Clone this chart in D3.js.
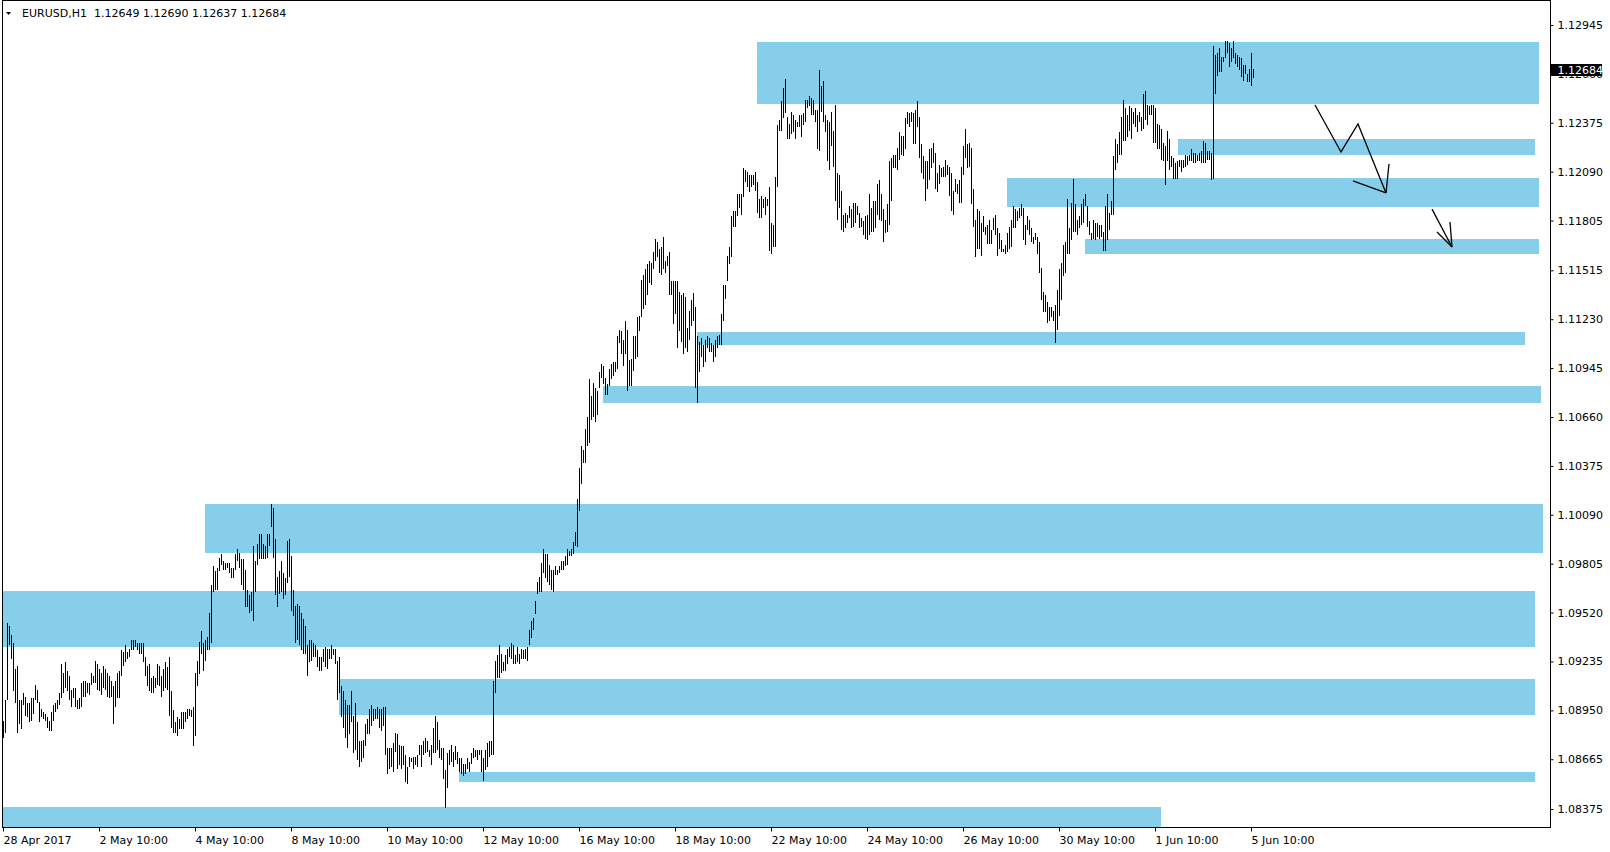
<!DOCTYPE html>
<html><head><meta charset="utf-8">
<script src="https://cdn.jsdelivr.net/npm/d3@7"></script>
<style>
body{margin:0;background:#fff;}
svg{display:block;}
text{font-family:"DejaVu Sans",sans-serif;font-size:11px;fill:#000;}
</style>
</head><body><svg id="c" width="1610" height="852"></svg>
<script>
const symbolText = "EURUSD,H1";
const lastOHLC = [1.12649, 1.12690, 1.12637, 1.12684];
const lastClose = 1.12684;

const highs = [
1.0889,1.0901,1.0946,1.0944,1.0939,1.0934,1.0919,1.0921,1.0901,1.0901,
1.0905,1.0903,1.0899,1.0899,1.0902,1.0902,1.0910,1.0907,1.0900,1.0896,
1.0894,1.0893,1.0891,1.0889,1.0894,1.0898,1.0899,1.0901,1.0905,1.0922,
1.0917,1.0923,1.0918,1.0915,1.0907,1.0908,1.0908,1.0901,1.0902,1.0911,
1.0912,1.0912,1.0911,1.0911,1.0917,1.0915,1.0924,1.0922,1.0919,1.0917,
1.0921,1.0919,1.0917,1.0915,1.0912,1.0909,1.0912,1.0917,1.0918,1.0930,
1.0929,1.0933,1.0929,1.0931,1.0936,1.0936,1.0936,1.0934,1.0934,1.0934,
1.0934,1.0926,1.0921,1.0922,1.0914,1.0915,1.0914,1.0922,1.0921,1.0915,
1.0919,1.0923,1.0920,1.0926,1.0906,1.0895,1.0888,1.0891,1.0890,1.0894,
1.0894,1.0894,1.0896,1.0896,1.0895,1.0897,1.0917,1.0924,1.0935,1.0941,
1.0934,1.0936,1.0938,1.0952,1.0968,1.0979,1.0976,1.0978,1.0984,1.0986,
1.0982,1.0981,1.0981,1.0981,1.0978,1.0978,1.0986,1.0989,1.0987,1.0983,
1.0983,1.0977,1.0965,1.0962,1.0964,1.0991,1.0982,1.0992,1.0998,1.0998,
1.0992,1.0991,1.0998,1.0998,1.1015,1.1013,1.0995,1.0973,1.0976,1.0982,
1.0975,1.0972,1.0994,1.0995,1.0985,1.0965,1.0956,1.0957,1.0956,1.0952,
1.0948,1.0944,1.0933,1.0936,1.0936,1.0934,1.0933,1.0930,1.0926,1.0926,
1.0931,1.0932,1.0931,1.0931,1.0933,1.0931,1.0931,1.0924,1.0926,1.0909,
1.0906,1.0901,1.0898,1.0898,1.0906,1.0892,1.0899,1.0888,1.0877,1.0877,
1.0878,1.0887,1.0890,1.0896,1.0898,1.0896,1.0896,1.0897,1.0896,1.0896,
1.0897,1.0897,1.0873,1.0873,1.0873,1.0876,1.0882,1.0881,1.0875,1.0874,
1.0874,1.0869,1.0862,1.0868,1.0867,1.0868,1.0868,1.0869,1.0875,1.0875,
1.0877,1.0879,1.0877,1.0872,1.0875,1.0885,1.0892,1.0888,1.0878,1.0873,
1.0873,1.0860,1.0870,1.0872,1.0875,1.0871,1.0874,1.0871,1.0867,1.0867,
1.0864,1.0864,1.0867,1.0865,1.0870,1.0873,1.0872,1.0872,1.0872,1.0872,
1.0867,1.0872,1.0876,1.0877,1.0877,1.0912,1.0924,1.0927,1.0933,1.0928,
1.0923,1.0927,1.0931,1.0932,1.0934,1.0933,1.0927,1.0932,1.0928,1.0931,
1.0930,1.0931,1.0932,1.0942,1.0947,1.0949,1.0959,1.0970,1.0973,1.0981,
1.0989,1.0986,1.0986,1.0980,1.0977,1.0977,1.0979,1.0977,1.0979,1.0982,
1.0982,1.0985,1.0989,1.0988,1.0989,1.0993,1.0999,1.1018,1.1036,1.1049,
1.1047,1.1059,1.1066,1.1088,1.1078,1.1086,1.1083,1.1081,1.1092,1.1097,
1.1096,1.1089,1.1085,1.1094,1.1097,1.1098,1.1098,1.1113,1.1117,1.1116,
1.1111,1.1122,1.1117,1.1099,1.1100,1.1113,1.1113,1.1124,1.1125,1.1146,
1.1149,1.1152,1.1155,1.1157,1.1156,1.1162,1.1170,1.1168,1.1164,1.1165,
1.1171,1.1157,1.1160,1.1162,1.1145,1.1145,1.1145,1.1145,1.1139,1.1137,
1.1138,1.1136,1.1118,1.1128,1.1134,1.1138,1.1130,1.1113,1.1110,1.1112,
1.1108,1.1111,1.1113,1.1112,1.1109,1.1108,1.1111,1.1113,1.1114,1.1126,
1.1143,1.1143,1.1160,1.1165,1.1183,1.1186,1.1186,1.1196,1.1196,1.1196,
1.1211,1.1210,1.1209,1.1207,1.1207,1.1207,1.1209,1.1203,1.1193,1.1195,
1.1193,1.1194,1.1193,1.1200,1.1179,1.1178,1.1206,1.1236,1.1239,1.1250,
1.1258,1.1263,1.1241,1.1237,1.1244,1.1242,1.1239,1.1238,1.1242,1.1242,
1.1243,1.1251,1.1251,1.1253,1.1252,1.1251,1.1245,1.1245,1.1268,1.1259,
1.1262,1.1242,1.1239,1.1238,1.1244,1.1233,1.1248,1.1208,1.1207,1.1198,
1.1184,1.1185,1.1184,1.1189,1.1187,1.1191,1.1191,1.1189,1.1185,1.1182,
1.1180,1.1183,1.1184,1.1196,1.1188,1.1192,1.1192,1.1202,1.1204,1.1196,
1.1187,1.1181,1.1190,1.1215,1.1217,1.1219,1.1219,1.1223,1.1232,1.1230,
1.1230,1.1240,1.1244,1.1243,1.1244,1.1243,1.1245,1.1250,1.1241,1.1225,
1.1218,1.1215,1.1215,1.1222,1.1223,1.1226,1.1220,1.1208,1.1213,1.1211,
1.1212,1.1216,1.1213,1.1212,1.1208,1.1198,1.1205,1.1202,1.1204,1.1212,
1.1224,1.1234,1.1225,1.1226,1.1223,1.1199,1.1181,1.1187,1.1186,1.1179,
1.1183,1.1177,1.1178,1.1181,1.1175,1.1182,1.1184,1.1176,1.1173,1.1169,
1.1164,1.1166,1.1173,1.1177,1.1181,1.1189,1.1187,1.1186,1.1188,1.1190,
1.1188,1.1178,1.1183,1.1181,1.1176,1.1171,1.1173,1.1171,1.1168,1.1153,
1.1139,1.1137,1.1133,1.1130,1.1130,1.1128,1.1131,1.1140,1.1152,1.1156,
1.1166,1.1168,1.1193,1.1176,1.1191,1.1205,1.1190,1.1181,1.1183,1.1190,
1.1193,1.1196,1.1189,1.1180,1.1173,1.1181,1.1179,1.1179,1.1178,1.1178,
1.1174,1.1189,1.1196,1.1185,1.1192,1.1218,1.1228,1.1225,1.1232,1.1241,
1.1251,1.1246,1.1242,1.1247,1.1246,1.1244,1.1246,1.1242,1.1244,1.1241,
1.1254,1.1256,1.1248,1.1247,1.1248,1.1248,1.1246,1.1237,1.1236,1.1234,
1.1226,1.1224,1.1233,1.1228,1.1218,1.1217,1.1214,1.1215,1.1216,1.1216,
1.1216,1.1219,1.1218,1.1219,1.1222,1.1220,1.1220,1.1219,1.1220,1.1221,
1.1227,1.1226,1.1221,1.1221,1.1220,1.1282,1.1277,1.1278,1.1281,1.1276,
1.1276,1.1285,1.1285,1.1284,1.1281,1.1285,1.1278,1.1277,1.1276,1.1275,
1.1271,1.1271,1.1266,1.1269,1.1278,1.12690
];

const lows = [
1.0879,1.0882,1.0901,1.0933,1.0925,1.0906,1.0899,1.0882,1.0887,1.0884,
1.0898,1.0892,1.0891,1.0888,1.0889,1.0893,1.0901,1.0899,1.0888,1.0891,
1.0890,1.0889,1.0885,1.0883,1.0883,1.0889,1.0894,1.0896,1.0898,1.0902,
1.0905,1.0908,1.0906,1.0901,1.0897,1.0902,1.0897,1.0896,1.0896,1.0897,
1.0903,1.0903,1.0905,1.0904,1.0910,1.0911,1.0911,1.0907,1.0906,1.0904,
1.0908,1.0907,1.0903,1.0902,1.0903,1.0887,1.0897,1.0902,1.0902,1.0915,
1.0921,1.0923,1.0925,1.0926,1.0930,1.0930,1.0932,1.0930,1.0928,1.0928,
1.0923,1.0915,1.0909,1.0906,1.0905,1.0905,1.0908,1.0910,1.0909,1.0903,
1.0906,1.0908,1.0907,1.0892,1.0885,1.0882,1.0882,1.0880,1.0884,1.0884,
1.0884,1.0888,1.0890,1.0892,1.0891,1.0874,1.0880,1.0909,1.0916,1.0928,
1.0918,1.0924,1.0930,1.0930,1.0934,1.0964,1.0965,1.0965,1.0976,1.0980,
1.0977,1.0977,1.0978,1.0975,1.0972,1.0972,1.0977,1.0982,1.0978,1.0968,
1.0965,1.0955,1.0955,1.0952,1.0953,1.0947,1.0964,1.0980,1.0983,1.0983,
1.0983,1.0983,1.0984,1.0991,1.1002,1.0984,1.0962,1.0955,1.0963,1.0964,
1.0960,1.0962,1.0969,1.0973,1.0953,1.0950,1.0934,1.0936,1.0933,1.0930,
1.0928,1.0928,1.0915,1.0923,1.0924,1.0926,1.0926,1.0920,1.0918,1.0918,
1.0923,1.0920,1.0919,1.0925,1.0925,1.0927,1.0922,1.0901,1.0905,1.0891,
1.0885,1.0879,1.0873,1.0881,1.0888,1.0870,1.0872,1.0866,1.0862,1.0865,
1.0867,1.0874,1.0881,1.0881,1.0886,1.0889,1.0890,1.0890,1.0885,1.0883,
1.0886,1.0869,1.0858,1.0861,1.0862,1.0859,1.0871,1.0861,1.0863,1.0861,
1.0863,1.0853,1.0852,1.0862,1.0865,1.0861,1.0863,1.0862,1.0869,1.0862,
1.0869,1.0870,1.0871,1.0868,1.0863,1.0870,1.0870,1.0872,1.0867,1.0866,
1.0855,1.0838,1.0850,1.0863,1.0865,1.0862,1.0866,1.0864,1.0859,1.0858,
1.0857,1.0858,1.0861,1.0859,1.0864,1.0867,1.0868,1.0866,1.0869,1.0859,
1.0854,1.0860,1.0862,1.0868,1.0869,1.0869,1.0905,1.0914,1.0914,1.0917,
1.0918,1.0918,1.0922,1.0926,1.0925,1.0922,1.0922,1.0923,1.0922,1.0925,
1.0925,1.0925,1.0924,1.0933,1.0937,1.0942,1.0951,1.0963,1.0964,1.0964,
1.0975,1.0972,1.0970,1.0968,1.0965,1.0964,1.0974,1.0974,1.0975,1.0977,
1.0977,1.0979,1.0980,1.0985,1.0985,1.0986,1.0991,1.0990,1.1011,1.1027,
1.1039,1.1039,1.1049,1.1051,1.1064,1.1066,1.1063,1.1067,1.1083,1.1089,
1.1085,1.1079,1.1079,1.1084,1.1088,1.1090,1.1092,1.1094,1.1109,1.1103,
1.1096,1.1103,1.1081,1.1084,1.1084,1.1093,1.1100,1.1101,1.1116,1.1124,
1.1129,1.1131,1.1137,1.1144,1.1143,1.1152,1.1157,1.1159,1.1150,1.1149,
1.1152,1.1150,1.1154,1.1137,1.1137,1.1120,1.1126,1.1106,1.1116,1.1110,
1.1103,1.1106,1.1104,1.1111,1.1119,1.1122,1.1083,1.1074,1.1092,1.1101,
1.1095,1.1098,1.1106,1.1104,1.1104,1.1098,1.1101,1.1106,1.1108,1.1108,
1.1122,1.1135,1.1145,1.1155,1.1159,1.1177,1.1177,1.1183,1.1188,1.1184,
1.1194,1.1203,1.1200,1.1197,1.1200,1.1201,1.1198,1.1185,1.1182,1.1182,
1.1188,1.1184,1.1189,1.1163,1.1161,1.1165,1.1165,1.1200,1.1233,1.1233,
1.1240,1.1243,1.1228,1.1228,1.1231,1.1232,1.1228,1.1235,1.1235,1.1229,
1.1236,1.1238,1.1246,1.1247,1.1242,1.1242,1.1238,1.1222,1.1221,1.1244,
1.1238,1.1232,1.1215,1.1210,1.1224,1.1212,1.1192,1.1181,1.1188,1.1175,
1.1174,1.1176,1.1179,1.1182,1.1176,1.1177,1.1179,1.1184,1.1176,1.1177,
1.1172,1.1170,1.1169,1.1172,1.1174,1.1174,1.1176,1.1184,1.1181,1.1180,
1.1168,1.1173,1.1174,1.1178,1.1192,1.1211,1.1211,1.1210,1.1216,1.1219,
1.1218,1.1222,1.1237,1.1235,1.1238,1.1225,1.1225,1.1235,1.1217,1.1208,
1.1205,1.1192,1.1199,1.1204,1.1211,1.1214,1.1199,1.1197,1.1202,1.1206,
1.1206,1.1206,1.1207,1.1195,1.1186,1.1184,1.1197,1.1196,1.1191,1.1191,
1.1207,1.1217,1.1211,1.1212,1.1190,1.1177,1.1159,1.1164,1.1164,1.1160,
1.1174,1.1172,1.1167,1.1167,1.1167,1.1175,1.1172,1.1160,1.1164,1.1162,
1.1162,1.1161,1.1162,1.1164,1.1165,1.1176,1.1176,1.1180,1.1182,1.1183,
1.1169,1.1166,1.1175,1.1172,1.1168,1.1167,1.1169,1.1161,1.1150,1.1134,
1.1127,1.1127,1.1121,1.1122,1.1124,1.1122,1.1109,1.1117,1.1125,1.1134,
1.1148,1.1150,1.1161,1.1161,1.1169,1.1174,1.1174,1.1172,1.1176,1.1178,
1.1179,1.1189,1.1177,1.1172,1.1169,1.1170,1.1169,1.1171,1.1170,1.1171,
1.1163,1.1163,1.1169,1.1175,1.1184,1.1184,1.1210,1.1214,1.1219,1.1219,
1.1227,1.1227,1.1229,1.1233,1.1228,1.1237,1.1235,1.1232,1.1238,1.1233,
1.1234,1.1239,1.1236,1.1242,1.1242,1.1226,1.1226,1.1222,1.1222,1.1216,
1.1215,1.1201,1.1215,1.1210,1.1212,1.1205,1.1205,1.1205,1.1212,1.1209,
1.1211,1.1212,1.1213,1.1215,1.1215,1.1214,1.1214,1.1215,1.1215,1.1214,
1.1214,1.1214,1.1216,1.1216,1.1204,1.1205,1.1254,1.1265,1.1267,1.1267,
1.1273,1.1275,1.1278,1.1270,1.1273,1.1275,1.1272,1.1270,1.1268,1.1264,
1.1262,1.1266,1.1261,1.1261,1.1259,1.12637
];

const timeTickBars = [0,48,96,144,192,240,288,336,384,432,480,528,576,624];
const timeTickLabels = ["28 Apr 2017","2 May 10:00","4 May 10:00","8 May 10:00","10 May 10:00","12 May 10:00","16 May 10:00","18 May 10:00","22 May 10:00","24 May 10:00","26 May 10:00","30 May 10:00","1 Jun 10:00","5 Jun 10:00"];
const priceTicks = [1.12945,1.12660,1.12375,1.12090,1.11805,1.11515,1.11230,1.10945,1.10660,1.10375,1.10090,1.09805,1.09520,1.09235,1.08950,1.08665,1.08375];

// support / resistance zones (bar index from/to, price top/bottom)
const zoneFrom  = [377, 587.5, 502, 541, 347, 300, 101, -0.5, 168, 228, -0.5];
const zoneTo    = [768, 766, 768, 768, 761, 769, 770, 766, 766, 766, 579];
const zoneTop   = [1.12846,1.12281,1.12053,1.11698,1.11157,1.10841,1.10153,1.09646,1.09133,1.08593,1.08387];
const zoneBottom= [1.12485,1.12187,1.11886,1.11610,1.11081,1.10743,1.09869,1.09319,1.08923,1.08532,1.08240];

// hand-drawn arrows (bar index, price)
const zigzag = [[656,1.12479],[669,1.12205],[677.5,1.12368],[691.5,1.11966]];
const zigzagHead = [[675,1.12036],[693,1.12135]];
const arrow2 = [[714.5,1.11872],[724.5,1.11651]];
const arrow2Head = [[717,1.11738],[723.5,1.11797]];

const svg = d3.select("#c");
const W = 1610, H = 852;
const plot = {left:2.5, top:0.5, right:1550.5, bottom:827.5};

svg.append("rect").attr("width",W).attr("height",H).attr("fill","#fff");

const x = d3.scaleLinear().domain([0, highs.length-1]).range([3, 3 + 2*(highs.length-1)]);
const y = d3.scaleLinear().domain([1.08375, 1.12945]).range([809, 25]);

svg.append("defs").append("clipPath").attr("id","plotclip")
  .append("rect").attr("x",plot.left).attr("y",plot.top)
  .attr("width",plot.right-plot.left).attr("height",plot.bottom-plot.top);

const g = svg.append("g").attr("clip-path","url(#plotclip)");

// zones
g.append("g").selectAll("rect").data(zoneFrom.map((f,i)=>i)).join("rect")
  .attr("x", i=>x(zoneFrom[i]))
  .attr("width", i=>x(zoneTo[i])-x(zoneFrom[i]))
  .attr("y", i=>y(zoneTop[i]))
  .attr("height", i=>y(zoneBottom[i])-y(zoneTop[i]))
  .attr("fill","#87CEEB")
  .attr("shape-rendering","crispEdges");

// bars
g.append("g").selectAll("line").data(highs.map((h,i)=>i)).join("line")
  .attr("x1", i=>Math.round(x(i))+0.5).attr("x2", i=>Math.round(x(i))+0.5)
  .attr("y1", i=>Math.round(y(highs[i])))
  .attr("y2", i=>Math.max(Math.round(y(lows[i])), Math.round(y(highs[i]))+1))
  .attr("stroke","#000").attr("stroke-width",1)
  .attr("shape-rendering","crispEdges");

// arrows
const line = d3.line().x(d=>x(d[0])).y(d=>y(d[1]));
g.append("path").attr("d", line(zigzag)).attr("fill","none").attr("stroke","#000").attr("stroke-width",1.3);
const tip1 = zigzag[zigzag.length-1];
zigzagHead.forEach(p=>g.append("path").attr("d", line([p, tip1])).attr("fill","none").attr("stroke","#000").attr("stroke-width",1.3));
g.append("path").attr("d", line(arrow2)).attr("fill","none").attr("stroke","#000").attr("stroke-width",1.3);
const tip2 = arrow2[arrow2.length-1];
arrow2Head.forEach(p=>g.append("path").attr("d", line([p, tip2])).attr("fill","none").attr("stroke","#000").attr("stroke-width",1.3));

// frame
svg.append("rect").attr("x",plot.left).attr("y",plot.top)
  .attr("width",plot.right-plot.left).attr("height",plot.bottom-plot.top)
  .attr("fill","none").attr("stroke","#000").attr("shape-rendering","crispEdges");

// price axis
const yAxis = d3.axisRight(y).tickValues(priceTicks).tickFormat(d3.format(".5f")).tickSize(3).tickPadding(4);
const ya = svg.append("g").attr("transform",`translate(${plot.right},0)`).call(yAxis);
ya.select(".domain").remove();
ya.selectAll("text").attr("font-family","DejaVu Sans").attr("font-size",11).attr("fill","#000");
ya.selectAll("line").attr("stroke","#000");

// time axis
const xAxis = d3.axisBottom(x).tickValues(timeTickBars).tickFormat((d,i)=>timeTickLabels[i]).tickSize(4).tickPadding(5);
const xa = svg.append("g").attr("transform",`translate(0,${plot.bottom})`).call(xAxis);
xa.select(".domain").remove();
xa.selectAll("text").attr("text-anchor","start").attr("font-family","DejaVu Sans").attr("font-size",11).attr("fill","#000");
xa.selectAll("line").attr("stroke","#000");

// last price marker
const yc = Math.round(y(lastClose));
svg.append("rect").attr("x",plot.right+0.5).attr("y",yc-6).attr("width",51).attr("height",12).attr("fill","#000");
svg.append("text").attr("x",plot.right+7).attr("y",yc+4).attr("fill","#fff").style("fill","#fff").text(d3.format(".5f")(lastClose));

// title
svg.append("path").attr("d","M6,12 L11,12 L8.5,15 Z").attr("fill","#000");
svg.append("text").attr("x",22).attr("y",17).attr("xml:space","preserve").style("white-space","pre")
  .text(symbolText + "  " + lastOHLC.map(d3.format(".5f")).join(" "));
</script>
</body></html>
